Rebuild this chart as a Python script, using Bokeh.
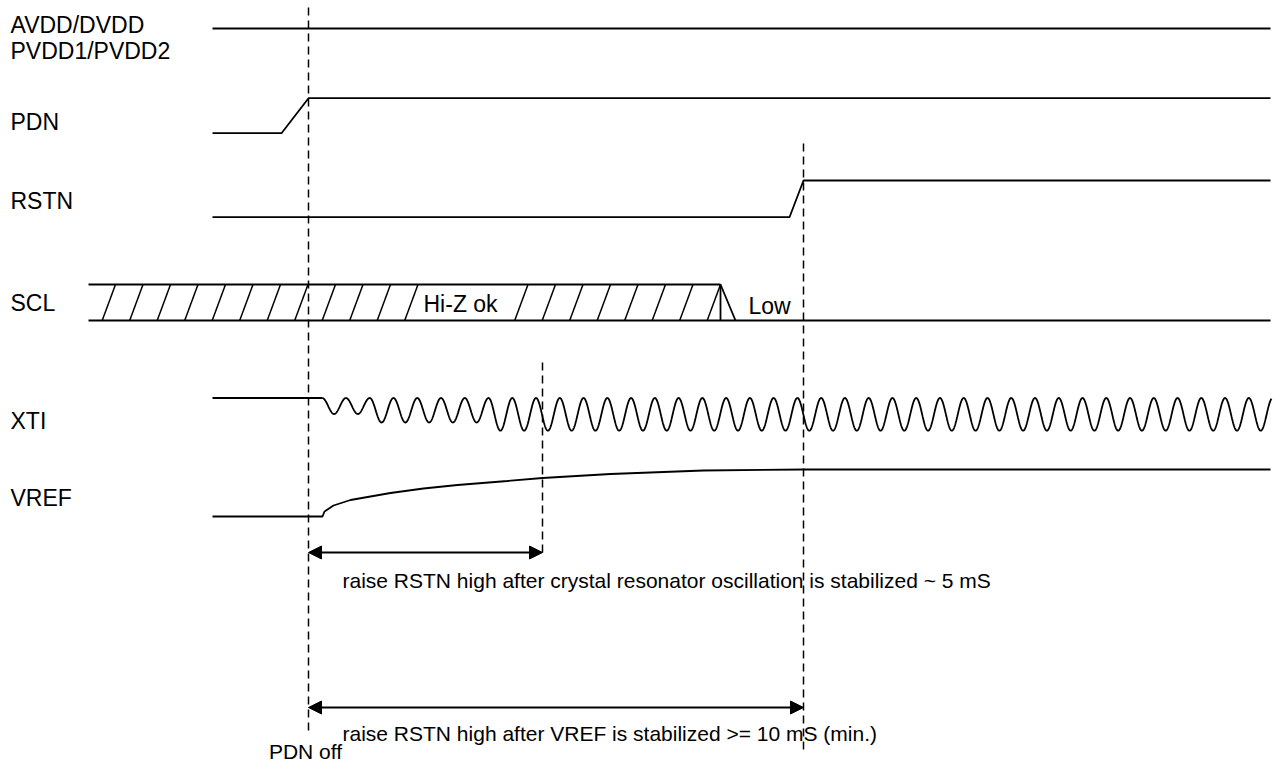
import numpy as np
from bokeh.plotting import figure
from bokeh.models import Range1d, Arrow, NormalHead
from bokeh.core.properties import value
from bokeh.embed import file_html
from bokeh.resources import INLINE

# ---------------- data (diagram units: x = time axis, y = level axis, top = 0) ----------------
label_texts = ["AVDD/DVDD", "PVDD1/PVDD2", "PDN", "RSTN", "SCL", "XTI", "VREF"]
label_y = [24, 50, 121, 200, 302, 420, 497]

t_begin = 212
t_end = 1270

# supply
avdd_t = [212, 1270]
avdd_v = [28, 28]

# PDN
pdn_t = [212, 281, 308, 1270]
pdn_v = [132.7, 132.7, 97.7, 97.7]

# RSTN
rstn_t = [212, 789, 803, 1270]
rstn_v = [216.7, 216.7, 180, 180]

# SCL: Hi-Z region then Low
scl_hiz_start = 88
scl_hiz_end = 720
scl_low_start = 735
scl_high = 284
scl_low = 320
hatch_first = 101.7
hatch_pitch = 27.5
hatch_skew = 13.3
hatch_skip = [12, 13, 14]  # slots hidden behind the "Hi-Z ok" label
hatch_count = 23

# XTI
xti_high = 397.5
xti_idle_t = [212, 321.7]
xti_osc_start = 321.7
xti_osc_end = 1271
xti_period = 23.76
xti_cycle_depth = [16, 16, 24.5, 24.5, 24.5, 24.5, 24.5, 32.7]  # last value holds afterwards

# VREF
vref_t = [212, 322, 324, 333, 350, 390, 423, 457, 507, 542, 610, 703, 803, 1270]
vref_v = [516, 516, 511, 505, 499.5, 492.5, 488, 484.5, 480.5, 477.5, 473.5, 470, 469, 469]

# timing markers
marker_t = [308, 542, 803]
marker_top = [7, 362, 143]
marker_bottom = [735, 553, 752]

arrow_from = [308, 308]
arrow_to = [542, 803]
arrow_y = [552, 707]

note_texts = ["raise RSTN high after crystal resonator oscillation is stabilized ~ 5 mS",
              "raise RSTN high after VREF is stabilized >= 10 mS (min.)"]
note_x = [342, 342]
note_y = [580, 733]

FONT = value("Liberation Sans")
LW = 1.8

p = figure(width=1283, height=762, output_backend="svg", toolbar_location=None,
           x_range=Range1d(0, 1283), y_range=Range1d(762, 0), min_border=0)
p.axis.visible = False
p.grid.visible = False
p.outline_line_color = None

# labels
p.text(x=[10] * len(label_texts), y=label_y, text=label_texts, text_font=FONT,
       text_font_size="23px", text_baseline="middle", text_align="left", text_color="black")

# simple signals
p.line(avdd_t, avdd_v, line_color="black", line_width=LW)
p.line(pdn_t, pdn_v, line_color="black", line_width=LW)
p.line(rstn_t, rstn_v, line_color="black", line_width=LW)

# SCL
p.line([scl_hiz_start, scl_hiz_end], [scl_high, scl_high], line_color="black", line_width=LW)
p.line([scl_hiz_start, t_end], [scl_low, scl_low], line_color="black", line_width=LW)
p.line([scl_hiz_end, scl_hiz_end], [scl_high, scl_low], line_color="black", line_width=LW)
p.line([scl_hiz_end, scl_low_start], [scl_high, scl_low], line_color="black", line_width=LW)
hx0, hx1, hy0, hy1 = [], [], [], []
for k in range(hatch_count):
    if k in hatch_skip:
        continue
    xb = hatch_first + hatch_pitch * k
    hx0.append(xb)
    hx1.append(xb + hatch_skew)
    hy0.append(scl_low)
    hy1.append(scl_high)
p.segment(x0=hx0, y0=hy0, x1=hx1, y1=hy1, line_color="black", line_width=1.5)
p.text(x=[423, 748], y=[303, 305], text=["Hi-Z ok", "Low"], text_font=FONT,
       text_font_size="23px", text_baseline="middle", text_align="left", text_color="black")

# XTI
p.line(xti_idle_t, [xti_high, xti_high], line_color="black", line_width=LW)
xs = np.linspace(xti_osc_start, xti_osc_end, 3000)
phase = (xs - xti_osc_start) / xti_period
cyc = np.minimum(np.floor(phase).astype(int), len(xti_cycle_depth) - 1)
depth = np.array(xti_cycle_depth)[cyc]
ys = xti_high + depth * (1 - np.cos(2 * np.pi * phase)) / 2
p.line(xs, ys, line_color="black", line_width=LW)

# VREF
p.line(vref_t, vref_v, line_color="black", line_width=LW)

# markers
p.segment(x0=marker_t, y0=marker_top, x1=marker_t, y1=marker_bottom,
          line_color="black", line_width=1.5, line_dash="8 5")

for a, b, y in zip(arrow_from, arrow_to, arrow_y):
    p.add_layout(Arrow(start=NormalHead(size=13, fill_color="black", line_color="black"),
                       end=NormalHead(size=13, fill_color="black", line_color="black"),
                       x_start=a, y_start=y, x_end=b, y_end=y,
                       line_color="black", line_width=LW))

p.text(x=note_x, y=note_y, text=note_texts, text_font=FONT, text_font_size="21px",
       text_baseline="middle", text_align="left", text_color="black")
p.text(x=[305], y=[751], text=["PDN off"], text_font=FONT, text_font_size="21px",
       text_baseline="middle", text_align="center", text_color="black")

open("out.html", "w").write(file_html(p, INLINE))
